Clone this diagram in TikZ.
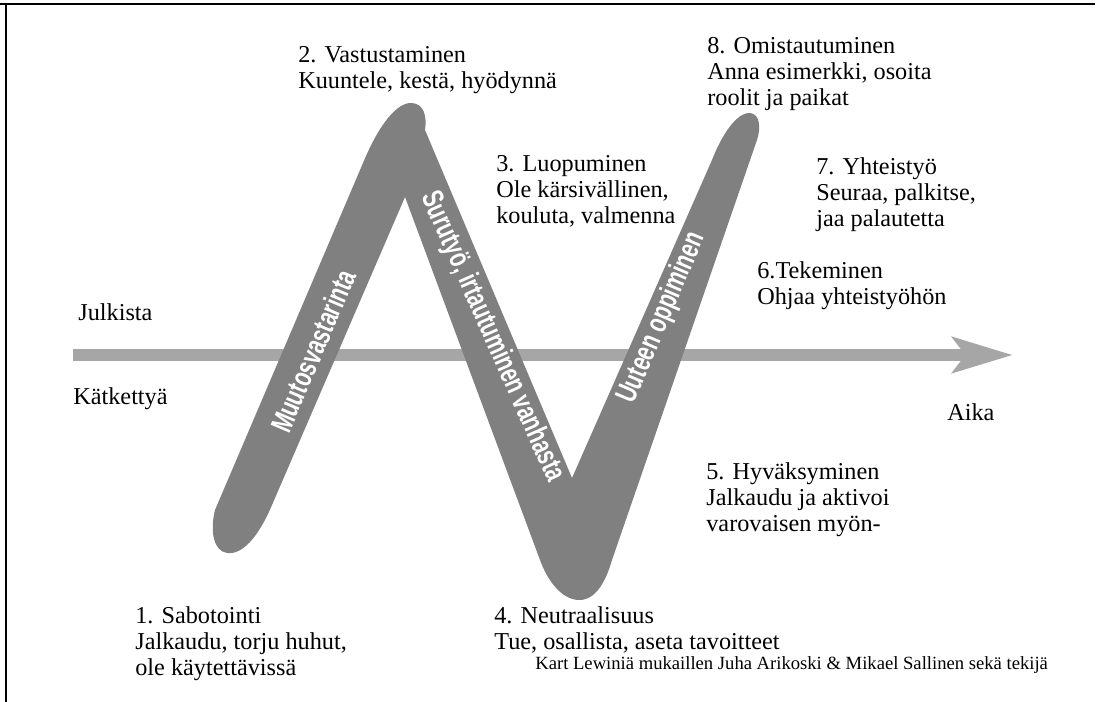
\documentclass[tikz,border=0pt]{standalone}
\usepackage{fontspec}
\setmainfont{Liberation Serif}
\newfontfamily\bandfont{Liberation Sans}
\usetikzlibrary{arrows.meta}

\definecolor{bandgray}{RGB}{128,128,128}
\definecolor{axisgray}{RGB}{166,166,166}

\begin{document}
\begin{tikzpicture}[x=0.02cm, y=-0.02cm,
  txt/.style={anchor=north west, align=left, inner sep=0pt, font=\fontsize{13.8}{14.9}\selectfont},
  note/.style={anchor=north west, inner sep=0pt, font=\fontsize{10.6}{12}\selectfont},
  bandtxt/.style={rotate=#1, xscale=0.7, text=white, inner sep=0pt, font=\bandfont\bfseries\fontsize{17}{17}\selectfont},
  frame/.style={line width=1.4pt}]
\useasboundingbox (0,0) rectangle (1101,702);
% frame
\draw[frame] (0,4) -- (1095,4);
\draw[frame] (6,4) -- (6,702);

% time axis
\coordinate (tstart) at (73,355);
\coordinate (tend) at (1013,355);
\draw[axisgray, line width=0.24cm, -{Stealth[length=1.2cm, width=0.7cm, inset=0.25cm]}] (tstart) -- (tend);

% change curve
\fill[bandgray] (215,510) -- (363,163)
  .. controls (380,122) and (398,102) .. (412,103)
  .. controls (424,104) and (427,116) .. (425,130)
  -- (572,478) -- (712,160)
  .. controls (725,127) and (740,112) .. (750,113)
  .. controls (760,114) and (761,128) .. (757,140)
  -- (612,560)
  .. controls (604,588) and (592,601) .. (578,600)
  .. controls (562,599) and (548,582) .. (540,560)
  -- (405,197) -- (272,505)
  .. controls (258,538) and (242,555) .. (227,553)
  .. controls (213,551) and (210,530) .. (215,510) -- cycle;

\node[bandtxt=67] (muutos) at (313,351) {Muutosvastarinta};
\node[bandtxt=-66] (suru) at (492,337) {Surutyö, irtautuminen vanhasta};
\node[bandtxt=67] (uusi) at (662,318) {Uuteen oppiminen};

% stages
\node[txt] (vast) at (298,46) {2. Vastustaminen\\Kuuntele, kestä, hyödynnä};
\node[txt] (omis) at (707,37) {8. Omistautuminen\\Anna esimerkki, osoita\\roolit ja paikat};
\node[txt] (luop) at (496,155) {3. Luopuminen\\Ole kärsivällinen,\\kouluta, valmenna};
\node[txt] (yhte) at (816,157) {7. Yhteistyö\\Seuraa, palkitse,\\jaa palautetta};
\node[txt] (teke) at (757,261) {6.Tekeminen\\Ohjaa yhteistyöhön};
\node[txt] (julk) at (78,303) {Julkista};
\node[txt] (katk) at (73,387) {Kätkettyä};
\node[txt] (aika) at (947,403) {Aika};
\node[txt] (hyva) at (706,462) {5. Hyväksyminen\\Jalkaudu ja aktivoi\\varovaisen myön-};
\node[txt] (sabo) at (135,606) {1. Sabotointi\\Jalkaudu, torju huhut,\\ole käytettävissä};
\node[txt] (neut) at (494,606) {4. Neutraalisuus\\Tue, osallista, aseta tavoitteet};
\node[note] (lahde) at (535,656) {Kart Lewiniä mukaillen Juha Arikoski \& Mikael Sallinen sekä tekijä};
\end{tikzpicture}
\end{document}
